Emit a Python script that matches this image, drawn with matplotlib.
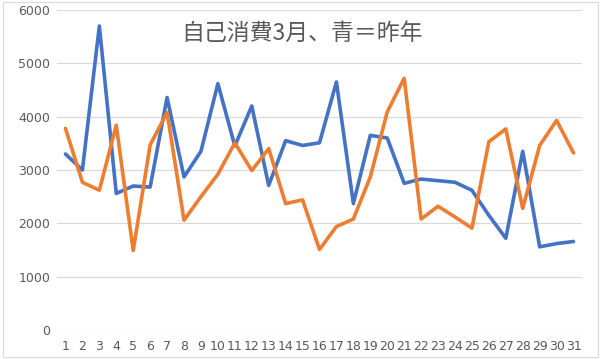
import numpy as np
import matplotlib.pyplot as plt
from matplotlib.patches import Rectangle

days = list(range(1, 32))
last_year = [3300, 3000, 5700, 2560, 2700, 2680, 4360, 2870, 3350, 4620,
             3450, 4200, 2710, 3550, 3460, 3510, 4650, 2370, 3650, 3600,
             2750, 2830, 2800, 2770, 2620, 2150, 1720, 3350, 1560, 1620, 1660]
this_year = [3780, 2770, 2620, 3840, 1490, 3470, 4080, 2060, 2500, 2920,
             3510, 2990, 3400, 2370, 2440, 1510, 1940, 2080, 2870, 4090,
             4720, 2080, 2320, 2120, 1910, 3530, 3770, 2280, 3460, 3930, 3320]
title = '自己消費3月、青＝昨年'

W, H = 601, 359
fig = plt.figure(figsize=(W / 100, H / 100), dpi=100)
ax = fig.add_axes([57 / W, 1 - 330 / H, (582 - 57) / W, 320 / H])

ax.plot(days, last_year, color='#4472C4', linewidth=2.6, solid_joinstyle='round',
        solid_capstyle='round')
ax.plot(days, this_year, color='#ED7D31', linewidth=2.6, solid_joinstyle='round',
        solid_capstyle='round')

ax.set_xlim(0.5, 31.5)
ax.set_ylim(0, 6000)
ax.set_yticks(np.arange(0, 6001, 1000))
ax.set_xticks(days)
ax.set_xticklabels([str(d) for d in days])
ax.grid(axis='y', color='#D9D9D9', linewidth=0.9)
ax.set_axisbelow(True)
for s in ax.spines.values():
    s.set_visible(False)
ax.tick_params(length=0, labelsize=9, colors='#595959', pad=7)
ax.tick_params(axis='y', pad=5)

fig.text(0.503, 0.906, title, fontsize=16.5, color='#595959', ha='center', va='center',
         family=['Noto Sans CJK JP', 'DejaVu Sans'])

# chart border
fig.patches.append(Rectangle((3 / W, 2 / H), 595 / W, 355 / H, transform=fig.transFigure,
                             fill=False, edgecolor='#D9D9D9', linewidth=0.8))

fig.savefig('out.png', dpi=100)
